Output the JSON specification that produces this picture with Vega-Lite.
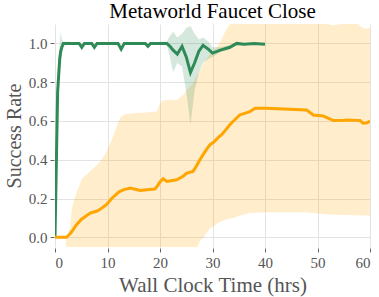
{
  "$schema": "https://vega.github.io/schema/vega-lite/v6.json",
  "width": 315,
  "height": 223,
  "autosize": {"type": "none"},
  "padding": {"left": 55, "top": 24, "right": 9, "bottom": 50},
  "background": "white",
  "title": {"text": "Metaworld Faucet Close", "font": "Liberation Serif", "fontSize": 21, "fontWeight": "normal", "color": "#000000", "offset": 2},
  "config": {
    "font": "Liberation Serif",
    "view": {"stroke": null},
    "axisX": {"labelFont": "Liberation Serif"},
    "axisY": {"labelFont": "Liberation Serif"},
    "axis": {
      "labelFont": "Liberation Serif", "labelFontSize": 15, "labelColor": "#555555",
      "titleFont": "Liberation Serif", "titleFontSize": 21, "titleColor": "#555555", "titleFontWeight": "normal",
      "gridColor": "#e3e3e3", "gridWidth": 1, "domain": false,
      "tickColor": "#666666", "tickSize": 4, "tickWidth": 1
    }
  },
  "data": {"values": [
    {"series": "Orange", "t": 0, "y": 0, "lo": 0, "hi": 0},
    {"series": "Orange", "t": 2.0, "y": 0, "lo": 0, "hi": 0},
    {"series": "Orange", "t": 2.2, "y": 0, "lo": -0.1, "hi": 0.0},
    {"series": "Orange", "t": 2.9, "y": 0.02, "lo": -0.1, "hi": 0.05},
    {"series": "Orange", "t": 3.2, "y": 0.03, "lo": -0.1, "hi": 0.15},
    {"series": "Orange", "t": 4.1, "y": 0.065, "lo": -0.1, "hi": 0.23},
    {"series": "Orange", "t": 5.1, "y": 0.095, "lo": -0.1, "hi": 0.30},
    {"series": "Orange", "t": 5.4, "y": 0.10, "lo": -0.1, "hi": 0.31},
    {"series": "Orange", "t": 6.7, "y": 0.125, "lo": -0.1, "hi": 0.34},
    {"series": "Orange", "t": 7.9, "y": 0.134, "lo": -0.1, "hi": 0.37},
    {"series": "Orange", "t": 8.6, "y": 0.145, "lo": -0.1, "hi": 0.39},
    {"series": "Orange", "t": 9.8, "y": 0.168, "lo": -0.1, "hi": 0.44},
    {"series": "Orange", "t": 10.8, "y": 0.2, "lo": -0.1, "hi": 0.5},
    {"series": "Orange", "t": 11.4, "y": 0.215, "lo": -0.1, "hi": 0.545},
    {"series": "Orange", "t": 12.1, "y": 0.232, "lo": -0.1, "hi": 0.597},
    {"series": "Orange", "t": 12.4, "y": 0.237, "lo": -0.1, "hi": 0.615},
    {"series": "Orange", "t": 13.0, "y": 0.245, "lo": -0.1, "hi": 0.631},
    {"series": "Orange", "t": 14.3, "y": 0.254, "lo": -0.1, "hi": 0.638},
    {"series": "Orange", "t": 14.9, "y": 0.25, "lo": -0.1, "hi": 0.64},
    {"series": "Orange", "t": 16.2, "y": 0.242, "lo": -0.1, "hi": 0.642},
    {"series": "Orange", "t": 17.5, "y": 0.245, "lo": -0.1, "hi": 0.643},
    {"series": "Orange", "t": 19.0, "y": 0.249, "lo": -0.1, "hi": 0.648},
    {"series": "Orange", "t": 19.4, "y": 0.26, "lo": -0.1, "hi": 0.65},
    {"series": "Orange", "t": 20.0, "y": 0.285, "lo": -0.1, "hi": 0.69},
    {"series": "Orange", "t": 20.6, "y": 0.302, "lo": -0.1, "hi": 0.705},
    {"series": "Orange", "t": 21.3, "y": 0.288, "lo": -0.1, "hi": 0.708},
    {"series": "Orange", "t": 23.2, "y": 0.297, "lo": -0.1, "hi": 0.708},
    {"series": "Orange", "t": 24.4, "y": 0.315, "lo": -0.1, "hi": 0.734},
    {"series": "Orange", "t": 25.1, "y": 0.331, "lo": -0.1, "hi": 0.76},
    {"series": "Orange", "t": 26.3, "y": 0.34, "lo": -0.1, "hi": 0.794},
    {"series": "Orange", "t": 27.0, "y": 0.37, "lo": -0.06, "hi": 0.83},
    {"series": "Orange", "t": 27.6, "y": 0.40, "lo": -0.02, "hi": 0.86},
    {"series": "Orange", "t": 28.3, "y": 0.43, "lo": 0.0, "hi": 0.897},
    {"series": "Orange", "t": 28.9, "y": 0.455, "lo": 0.023, "hi": 0.92},
    {"series": "Orange", "t": 29.5, "y": 0.477, "lo": 0.045, "hi": 0.945},
    {"series": "Orange", "t": 30.2, "y": 0.49, "lo": 0.057, "hi": 0.96},
    {"series": "Orange", "t": 30.8, "y": 0.506, "lo": 0.07, "hi": 0.98},
    {"series": "Orange", "t": 31.1, "y": 0.515, "lo": 0.075, "hi": 0.99},
    {"series": "Orange", "t": 31.7, "y": 0.528, "lo": 0.082, "hi": 1.02},
    {"series": "Orange", "t": 32.4, "y": 0.55, "lo": 0.09, "hi": 1.06},
    {"series": "Orange", "t": 33.3, "y": 0.58, "lo": 0.097, "hi": 1.10},
    {"series": "Orange", "t": 34.0, "y": 0.60, "lo": 0.10, "hi": 1.15},
    {"series": "Orange", "t": 35.2, "y": 0.631, "lo": 0.112, "hi": 1.15},
    {"series": "Orange", "t": 37.1, "y": 0.648, "lo": 0.125, "hi": 1.15},
    {"series": "Orange", "t": 38.1, "y": 0.666, "lo": 0.127, "hi": 1.15},
    {"series": "Orange", "t": 40.3, "y": 0.665, "lo": 0.129, "hi": 1.15},
    {"series": "Orange", "t": 43.5, "y": 0.662, "lo": 0.129, "hi": 1.15},
    {"series": "Orange", "t": 47.9, "y": 0.657, "lo": 0.129, "hi": 1.15},
    {"series": "Orange", "t": 49.2, "y": 0.631, "lo": 0.125, "hi": 1.15},
    {"series": "Orange", "t": 51.1, "y": 0.626, "lo": 0.12, "hi": 1.12},
    {"series": "Orange", "t": 52.4, "y": 0.61, "lo": 0.118, "hi": 1.095},
    {"series": "Orange", "t": 53.0, "y": 0.602, "lo": 0.117, "hi": 1.095},
    {"series": "Orange", "t": 55.0, "y": 0.604, "lo": 0.115, "hi": 1.10},
    {"series": "Orange", "t": 55.6, "y": 0.605, "lo": 0.115, "hi": 1.10},
    {"series": "Orange", "t": 57.5, "y": 0.603, "lo": 0.114, "hi": 1.11},
    {"series": "Orange", "t": 58.1, "y": 0.602, "lo": 0.113, "hi": 1.09},
    {"series": "Orange", "t": 58.7, "y": 0.588, "lo": 0.112, "hi": 1.08},
    {"series": "Orange", "t": 59.4, "y": 0.59, "lo": 0.112, "hi": 1.075},
    {"series": "Orange", "t": 60.0, "y": 0.60, "lo": 0.11, "hi": 1.08},
    {"series": "Green", "t": 0, "y": 0, "lo": 0, "hi": 0},
    {"series": "Green", "t": 0.2, "y": 0.3, "lo": 0.25, "hi": 0.4},
    {"series": "Green", "t": 0.5, "y": 0.75, "lo": 0.65, "hi": 0.85},
    {"series": "Green", "t": 0.9, "y": 0.92, "lo": 0.85, "hi": 1.0},
    {"series": "Green", "t": 1.1, "y": 0.96, "lo": 0.9, "hi": 1.06},
    {"series": "Green", "t": 1.3, "y": 0.98, "lo": 0.95, "hi": 1.02},
    {"series": "Green", "t": 1.6, "y": 1.0, "lo": 0.99, "hi": 1.01},
    {"series": "Green", "t": 4.6, "y": 1.0, "lo": 0.995, "hi": 1.005},
    {"series": "Green", "t": 5.1, "y": 0.98, "lo": 0.965, "hi": 0.995},
    {"series": "Green", "t": 5.6, "y": 1.0, "lo": 0.995, "hi": 1.005},
    {"series": "Green", "t": 7.0, "y": 1.0, "lo": 0.995, "hi": 1.005},
    {"series": "Green", "t": 7.5, "y": 0.98, "lo": 0.97, "hi": 0.99},
    {"series": "Green", "t": 8.0, "y": 1.0, "lo": 0.995, "hi": 1.005},
    {"series": "Green", "t": 12.0, "y": 1.0, "lo": 0.995, "hi": 1.005},
    {"series": "Green", "t": 12.6, "y": 0.97, "lo": 0.955, "hi": 0.985},
    {"series": "Green", "t": 13.2, "y": 1.0, "lo": 0.995, "hi": 1.005},
    {"series": "Green", "t": 17.2, "y": 1.0, "lo": 0.995, "hi": 1.005},
    {"series": "Green", "t": 17.7, "y": 0.985, "lo": 0.975, "hi": 0.995},
    {"series": "Green", "t": 18.2, "y": 1.0, "lo": 0.995, "hi": 1.005},
    {"series": "Green", "t": 21.3, "y": 1.0, "lo": 0.99, "hi": 1.01},
    {"series": "Green", "t": 21.9, "y": 0.985, "lo": 0.93, "hi": 1.04},
    {"series": "Green", "t": 22.5, "y": 0.965, "lo": 0.85, "hi": 1.06},
    {"series": "Green", "t": 23.3, "y": 0.945, "lo": 0.90, "hi": 1.03},
    {"series": "Green", "t": 24.2, "y": 0.985, "lo": 0.88, "hi": 1.05},
    {"series": "Green", "t": 25.0, "y": 0.93, "lo": 0.75, "hi": 1.08},
    {"series": "Green", "t": 25.8, "y": 0.85, "lo": 0.58, "hi": 1.09},
    {"series": "Green", "t": 26.6, "y": 0.90, "lo": 0.76, "hi": 1.05},
    {"series": "Green", "t": 27.4, "y": 0.96, "lo": 0.85, "hi": 1.02},
    {"series": "Green", "t": 28.2, "y": 0.99, "lo": 0.9, "hi": 1.03},
    {"series": "Green", "t": 29.2, "y": 0.97, "lo": 0.92, "hi": 1.01},
    {"series": "Green", "t": 30.0, "y": 0.95, "lo": 0.93, "hi": 0.98},
    {"series": "Green", "t": 31.5, "y": 0.965, "lo": 0.955, "hi": 0.98},
    {"series": "Green", "t": 33.3, "y": 0.98, "lo": 0.97, "hi": 0.99},
    {"series": "Green", "t": 34.6, "y": 1.0, "lo": 0.99, "hi": 1.005},
    {"series": "Green", "t": 36.0, "y": 0.995, "lo": 0.99, "hi": 1.0},
    {"series": "Green", "t": 38.0, "y": 1.0, "lo": 0.995, "hi": 1.005},
    {"series": "Green", "t": 40.0, "y": 0.995, "lo": 0.99, "hi": 1.0}
  ]},
  "encoding": {
    "x": {"field": "t", "type": "quantitative", "scale": {"domain": [0, 60], "nice": false, "zero": false},
      "axis": {"title": "Wall Clock Time (hrs)", "values": [0, 10, 20, 30, 40, 50, 60], "labelFont": {"expr": "'Liberation Serif'"}, "labelPadding": 3, "titlePadding": 4, "offset": 1}},
    "color": {"field": "series", "type": "nominal", "scale": {"domain": ["Green", "Orange"], "range": ["#2e8b57", "#ffa500"]}, "legend": null}
  },
  "layer": [
    {
      "transform": [{"filter": "datum.series === 'Orange'"}],
      "mark": {"type": "area", "opacity": 0.2, "clip": true},
      "encoding": {
        "y": {"field": "lo", "type": "quantitative", "scale": {"domain": [-0.05, 1.1], "nice": false, "zero": false},
          "axis": {"title": "Success Rate", "values": [0, 0.2, 0.4, 0.6, 0.8, 1.0], "format": ".1f", "labelFont": {"expr": "'Liberation Serif'"}, "labelPadding": 3, "titlePadding": 4, "titleFontSize": 20, "offset": 1}},
        "y2": {"field": "hi"}
      }
    },
    {
      "transform": [{"filter": "datum.series === 'Green'"}],
      "mark": {"type": "area", "opacity": 0.2, "clip": true},
      "encoding": {
        "y": {"field": "lo", "type": "quantitative"},
        "y2": {"field": "hi"}
      }
    },
    {
      "transform": [{"filter": "datum.series === 'Green'"}],
      "mark": {"type": "line", "strokeWidth": 3, "clip": true},
      "encoding": {"y": {"field": "y", "type": "quantitative"}}
    },
    {
      "transform": [{"filter": "datum.series === 'Orange'"}],
      "mark": {"type": "line", "strokeWidth": 3, "clip": true},
      "encoding": {"y": {"field": "y", "type": "quantitative"}}
    }
  ]
}
